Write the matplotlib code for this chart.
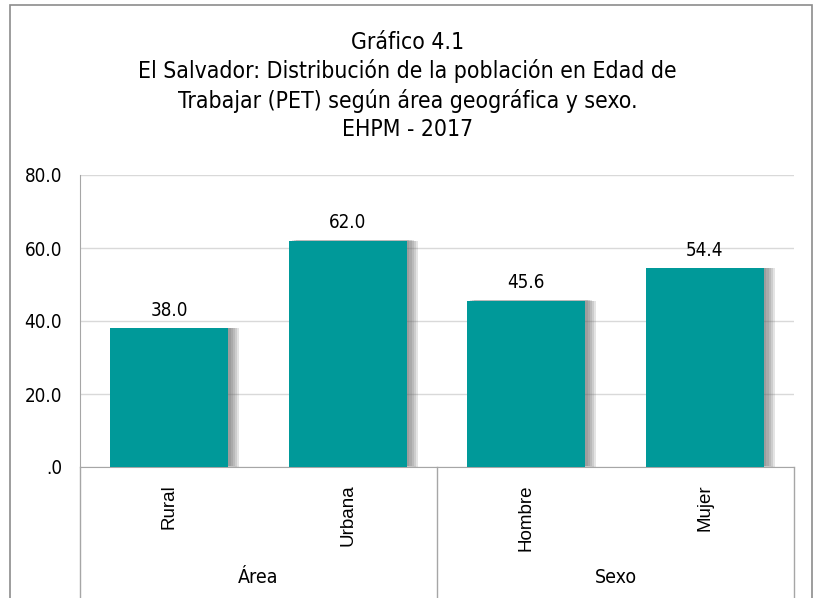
import matplotlib
matplotlib.use('Agg')
import matplotlib.pyplot as plt
import matplotlib.patheffects as pe
from matplotlib.patches import Rectangle

# datos
categorias = ['Rural', 'Urbana', 'Hombre', 'Mujer']
valores = [38.0, 62.0, 45.6, 54.4]
grupos = ['Área', 'Sexo']
grupo_tam = [2, 2]
yticks = [0, 20, 40, 60, 80]
ytick_labels = ['.0', '20.0', '40.0', '60.0', '80.0']
titulo = ('Gráfico 4.1\n'
          'El Salvador: Distribución de la población en Edad de\n'
          'Trabajar (PET) según área geográfica y sexo.\n'
          'EHPM - 2017')

narrow = dict(family='DejaVu Sans', stretch='condensed')
color_barra = '#009999'

fig = plt.figure(figsize=(8.15, 5.98), dpi=100)
ax = fig.add_axes([80 / 815, 131 / 598, 714 / 815, 292 / 598])

x = list(range(len(categorias)))
# sombra difusa a la derecha de cada barra
sombra = [pe.SimplePatchShadow(offset=(dx, dy), shadow_rgbFace='#606060', alpha=0.17)
          for dx, dy in ((2, 0.5), (3.5, 0.5), (5, 0.5), (6.5, 0), (8, 0))]
barras = ax.bar(x, valores, width=0.66, color=color_barra, zorder=3)
for b in barras:
    b.set_path_effects(sombra + [pe.Normal()])

for xi, v in zip(x, valores):
    ax.text(xi, v + 2.4, f'{v:.1f}', ha='center', va='bottom',
            fontsize=13.5, **narrow)

ax.set_xlim(-0.5, len(categorias) - 0.5)
ax.set_ylim(0, 80)
ax.set_yticks(yticks)
ax.set_yticklabels(ytick_labels, fontsize=13.5, **narrow)
ax.tick_params(axis='y', length=0, pad=13)
ax.set_xticks([])
ax.grid(axis='y', color='#d9d9d9', lw=1, zorder=0)
for s in ['top', 'right']:
    ax.spines[s].set_visible(False)
ax.spines['left'].set_color('#a6a6a6')
ax.spines['bottom'].set_color('#a6a6a6')

# etiquetas de categorias (multinivel)
tr = ax.get_xaxis_transform()
for xi, c in zip(x, categorias):
    ax.text(xi, -0.06, c, rotation=90, ha='center', va='top',
            fontsize=13.5, family='Liberation Sans', stretch='condensed', transform=tr)

inicio = -0.5
for g, n in zip(grupos, grupo_tam):
    fin = inicio + n
    ax.text((inicio + fin) / 2, -0.377, g, ha='center', va='center',
            fontsize=14, transform=tr, **narrow)
    inicio = fin
bordes = [-0.5]
for n in grupo_tam:
    bordes.append(bordes[-1] + n)
for b in bordes:
    ax.plot([b, b], [0, -0.5], transform=tr, color='#a6a6a6', lw=1, clip_on=False)

fig.text(0.5, 1 - 86 / 598, titulo, ha='center', va='center', fontsize=16.5,
         linespacing=1.28, **narrow)

fig.patches.append(Rectangle((10 / 815, -0.02), 802 / 815, 1 - 5 / 598 + 0.02,
                             transform=fig.transFigure, fill=False,
                             edgecolor='#8c8c8c', lw=1.2))

fig.savefig('out.png', dpi=100)
